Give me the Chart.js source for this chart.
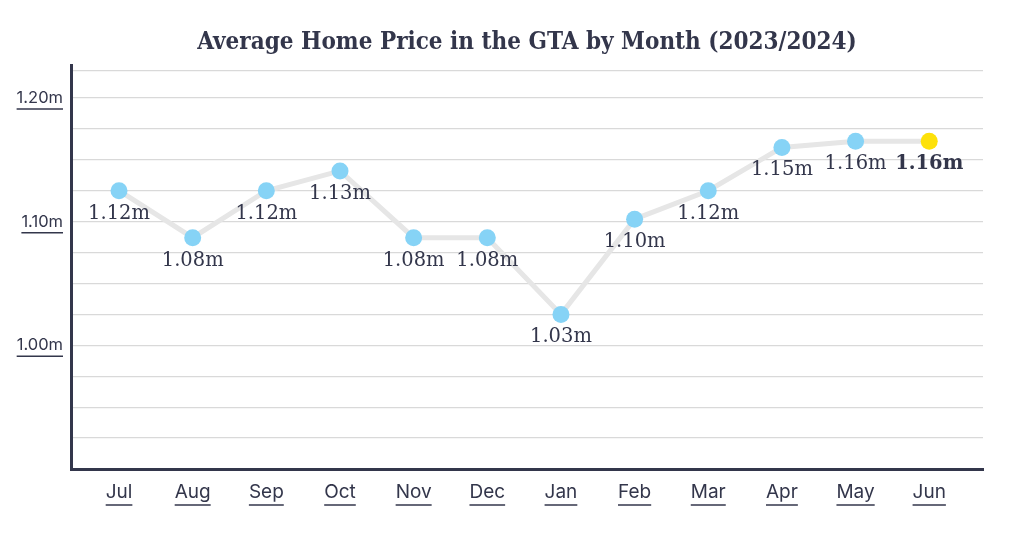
<!DOCTYPE html>
<html>
<head>
<meta charset="utf-8">
<script src="https://cdn.jsdelivr.net/npm/chart.js@4"></script>
<style>
    html, body { margin: 0; padding: 0; background: #fff; }
    #wrap { width: 1024px; height: 537px; }
</style>
</head>
<body>
<div id="wrap"><canvas id="priceChart"></canvas></div>
<script>
const months = ['Jul', 'Aug', 'Sep', 'Oct', 'Nov', 'Dec', 'Jan', 'Feb', 'Mar', 'Apr', 'May', 'Jun'];
// average price in millions
const prices = [1.125, 1.087, 1.125, 1.141, 1.087, 1.087, 1.025, 1.102, 1.125, 1.160, 1.165, 1.165];
const priceLabels = ['1.12m', '1.08m', '1.12m', '1.13m', '1.08m', '1.08m', '1.03m', '1.10m', '1.12m', '1.15m', '1.16m', '1.16m'];
const gridValues = [0.9, 0.925, 0.95, 0.975, 1.0, 1.025, 1.05, 1.075, 1.1, 1.125, 1.15, 1.175, 1.2, 1.2225];
const labelledTicks = [1.0, 1.1, 1.2];

const INK = '#33364b';
const sans = 'Inter, "Noto Sans", sans-serif';
const serif = '"DejaVu Serif", serif';

const pointColors = prices.map((v, i) => i === prices.length - 1 ? '#fde10a' : '#86d3f6');

function underline(ctx, text, x, y, align) {
    const w = ctx.measureText(text).width;
    const x0 = align === 'right' ? x - w : x - w / 2;
    ctx.beginPath();
    ctx.moveTo(x0, y);
    ctx.lineTo(x0 + w, y);
    ctx.stroke();
}

const decorations = {
    id: 'decorations',
    afterDatasetsDraw(chart) {
        const ctx = chart.ctx;
        const meta = chart.getDatasetMeta(0);
        ctx.save();
        ctx.fillStyle = INK;
        ctx.textAlign = 'center';
        ctx.textBaseline = 'middle';
        meta.data.forEach((pt, i) => {
            const last = i === meta.data.length - 1;
            ctx.font = (last ? 'bold ' : '') + '19.5px ' + serif;
            ctx.fillText(priceLabels[i], pt.x, pt.y + 23);
        });
        ctx.restore();
    },
    afterDraw(chart) {
        const ctx = chart.ctx;
        const { x, y } = chart.scales;
        ctx.save();
        ctx.strokeStyle = INK;
        ctx.lineWidth = 1.5;
        ctx.font = '16.5px ' + sans;
        labelledTicks.forEach(v => {
            underline(ctx, v.toFixed(2) + 'm', 63, y.getPixelForValue(v) + 11, 'right');
        });
        ctx.font = '19px ' + sans;
        months.forEach((m, i) => {
            underline(ctx, m, x.getPixelForValue(i), 505, 'center');
        });
        ctx.restore();
    }
};

new Chart(document.getElementById('priceChart'), {
    type: 'line',
    data: {
        datasets: [{
            data: prices.map((p, i) => ({ x: i, y: p })),
            borderColor: '#e6e6e6',
            borderWidth: 5,
            pointRadius: 8.5,
            pointHoverRadius: 8.5,
            pointBorderWidth: 0,
            pointBackgroundColor: pointColors,
            tension: 0
        }]
    },
    options: {
        responsive: true,
        maintainAspectRatio: false,
        animation: false,
        layout: { padding: { left: 0, right: 41, top: 0, bottom: 0 } },
        plugins: {
            legend: { display: false },
            tooltip: { enabled: false },
            title: {
                display: true,
                fullSize: false,
                text: 'Average Home Price in the GTA by Month (2023/2024)',
                color: INK,
                font: { family: '"DejaVu Serif Condensed", "DejaVu Serif", serif', size: 24, weight: 'bold', lineHeight: 1.2 },
                padding: { top: 28, bottom: 9 }
            }
        },
        scales: {
            x: {
                type: 'linear',
                min: -0.652,
                max: 11.73,
                afterBuildTicks: axis => { axis.ticks = months.map((m, i) => ({ value: i })); },
                afterFit: axis => { axis.height = 68; },
                grid: { display: false, drawTicks: false },
                border: { color: INK, width: 3 },
                ticks: {
                    autoSkip: false,
                    maxRotation: 0,
                    padding: 12,
                    color: INK,
                    font: { family: sans, size: 19 },
                    callback: v => months[v]
                }
            },
            y: {
                min: 0.9,
                max: 1.226,
                afterBuildTicks: axis => { axis.ticks = gridValues.map(v => ({ value: v })); },
                afterFit: axis => { axis.width = 71; },
                grid: { color: '#d9d9d9', lineWidth: 1.2, drawTicks: false },
                border: { color: INK, width: 3 },
                ticks: {
                    padding: 8,
                    color: INK,
                    font: { family: sans, size: 16.5 },
                    callback: v => labelledTicks.some(t => Math.abs(t - v) < 1e-6) ? v.toFixed(2) + 'm' : ''
                }
            }
        }
    },
    plugins: [decorations]
});
</script>
</body>
</html>
